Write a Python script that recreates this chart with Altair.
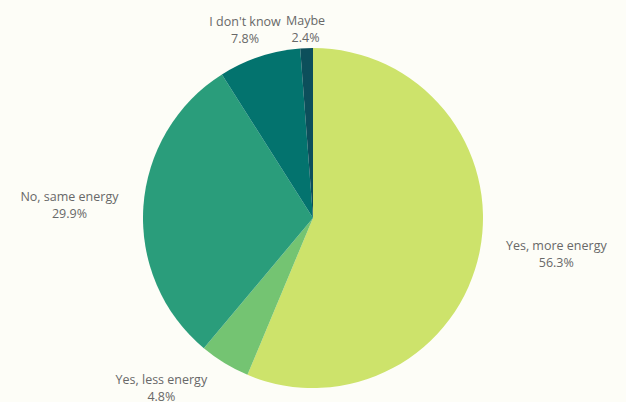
import altair as alt
import pandas as pd

categories = ["Yes, more energy", "Yes, less energy", "No, same energy", "I don't know", "Maybe"]
shares = [56.3, 4.8, 29.9, 7.8, 1.2]
pct_labels = ["56.3%", "4.8%", "29.9%", "7.8%", "2.4%"]
colors = ["#cde36b", "#74c472", "#2a9d7b", "#03736e", "#0c4f5b"]

df = pd.DataFrame({
    "category": categories,
    "share": shares,
    "pct": pct_labels,
    "idx": list(range(len(categories))),
})

R = 170
LR = 185

arcs = alt.Chart(df).mark_arc(outerRadius=R, stroke=None).encode(
    theta=alt.Theta("share:Q", stack=True),
    color=alt.Color("category:N", scale=alt.Scale(domain=categories, range=colors), legend=None),
    order=alt.Order("idx:Q"),
)

labels = alt.Chart(df).transform_window(
    cum="sum(share)", sort=[alt.SortField("idx")], frame=[None, 0]
).transform_joinaggregate(
    total="sum(share)"
).transform_calculate(
    ang="2*PI*(datum.cum - datum.share/2)/datum.total",
    txt="[datum.category, datum.pct]",
    w="length(datum.category)*6.4",
).transform_calculate(
    s="sin(datum.ang)",
    c="cos(datum.ang)",
).transform_calculate(
    hs="datum.s > 0.4 ? 1 : (datum.s < -0.4 ? -1 : 0)",
    vs="datum.c > 0.5 ? -1 : (datum.c < -0.5 ? 1 : 0)",
    py=f"height/2 - datum.c*{LR}",
).mark_text(
    radius=LR,
    align="center",
    baseline="middle",
    font="Open Sans",
    fontSize=12.5,
    color="#686868",
    lineHeight=17,
    dx=alt.expr("datum.hs != 0 ? datum.hs * (datum.w/2 + 14*abs(datum.s) - 3) : datum.s * datum.w/2 * 0.8"),
    dy=alt.expr("max(datum.vs*12 - 8.5, -13 - datum.py)"),
).encode(
    theta=alt.Theta("share:Q", stack=True),
    order=alt.Order("idx:Q"),
    text=alt.Text("txt:N"),
)

chart = alt.layer(arcs, labels).properties(
    width=626,
    height=368,
    background="#fdfdf7",
    padding={"top": 34, "left": 0, "right": 0, "bottom": 0},
    autosize=alt.AutoSizeParams(type="none"),
).configure_view(stroke=None)

chart.save("out.html", embed_options={"renderer": "svg", "actions": False})
